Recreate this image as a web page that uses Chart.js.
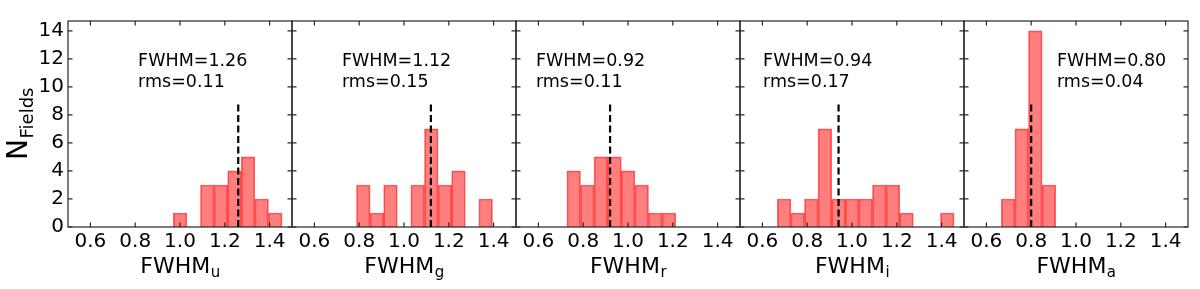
<!DOCTYPE html>
<html><head><meta charset="utf-8">
<script src="https://cdn.jsdelivr.net/npm/chart.js@4.4.1/dist/chart.umd.min.js"></script>
<style>
html,body{margin:0;padding:0;background:#fff;}
#wrap{position:relative;width:1200px;height:289px;overflow:hidden;background:#fff;}
.pan{position:absolute;top:0;height:289px;}
canvas{display:block;}
</style></head><body><div id="wrap"></div>
<script>
// ---------------- data ----------------
const binCenters = [0.6969,0.7576,0.8183,0.8790,0.9397,1.0004,1.0611,1.1218,1.1825,1.2432,1.3039,1.3646,1.4253];
const bandNames = ['u','g','r','i','a'];
const countsU = [0,0,0,0,0,1,0,3,3,4,5,2,1];
const countsG = [0,0,3,1,3,0,3,7,3,4,0,2,0];
const countsR = [0,4,3,5,5,4,3,1,1,0,0,0,0];
const countsI = [2,1,2,7,2,2,2,3,3,1,0,0,1];
const countsA = [2,7,14,3,0,0,0,0,0,0,0,0,0];
const fwhmValues = [1.26,1.12,0.92,0.94,0.80];
const fwhmLabels = ['1.26','1.12','0.92','0.94','0.80'];
const rmsLabels = ['0.11','0.15','0.11','0.17','0.04'];
const dashTop = 9;
const xTicks = [0.6,0.8,1.0,1.2,1.4];
const yTicks = [0,2,4,6,8,10,12,14];
const allCounts = [countsU,countsG,countsR,countsI,countsA];

// ---------------- layout ----------------
const annotX = [0.813,0.723,0.589,0.603,0.915];
const annotY1 = 11.5, annotY2 = 10.0;
const AREA_LEFT = 68, PANEL_W = 224, TOP = 21, XAX_H = 62, H = 289;
const FONT = "'DejaVu Sans', sans-serif";
const TL = 4.5;

const deco = {
  id: 'panelDeco',
  afterDatasetsDraw(chart, args, opts) {
    const ctx = chart.ctx, a = chart.chartArea;
    const xs = chart.scales.x, ys = chart.scales.y;
    ctx.save();
    ctx.strokeStyle = '#262626';
    ctx.lineWidth = 1.2;
    ctx.beginPath();
    xTicks.forEach(v => {
      const px = xs.getPixelForValue(v);
      ctx.moveTo(px, a.bottom); ctx.lineTo(px, a.bottom - TL);
      ctx.moveTo(px, a.top); ctx.lineTo(px, a.top + TL);
    });
    yTicks.forEach(v => {
      const py = ys.getPixelForValue(v);
      ctx.moveTo(a.left, py); ctx.lineTo(a.left + TL, py);
      ctx.moveTo(a.right, py); ctx.lineTo(a.right - TL, py);
    });
    ctx.stroke();
    ctx.strokeRect(a.left, a.top, a.right - a.left, a.bottom - a.top);
    ctx.restore();
  },
  afterDraw(chart, args, opts) {
    const k = opts.index;
    const ctx = chart.ctx, a = chart.chartArea;
    const xs = chart.scales.x, ys = chart.scales.y;
    ctx.save();
    ctx.fillStyle = '#000';
    ctx.textBaseline = 'alphabetic';
    ctx.textAlign = 'left';
    // annotation
    ctx.font = '17.5px ' + FONT;
    const ax = xs.getPixelForValue(annotX[k]);
    ctx.fillText('FWHM=' + fwhmLabels[k], ax, ys.getPixelForValue(annotY1));
    ctx.fillText('rms=' + rmsLabels[k], ax, ys.getPixelForValue(annotY2));
    // x title with subscript
    const cx = (a.left + a.right) / 2;
    ctx.font = '22px ' + FONT;
    const w1 = ctx.measureText('FWHM').width;
    ctx.font = '15px ' + FONT;
    const w2 = ctx.measureText(bandNames[k]).width;
    const sx = cx - (w1 + w2) / 2;
    ctx.font = '22px ' + FONT;
    ctx.fillText('FWHM', sx, 272.5);
    ctx.font = '15px ' + FONT;
    ctx.fillText(bandNames[k], sx + w1 + 0.5, 277);
    // y title (first panel)
    if (k === 0) {
      ctx.translate(27, (a.top + a.bottom) / 2);
      ctx.rotate(-Math.PI / 2);
      ctx.font = '28px ' + FONT;
      const n1 = ctx.measureText('N').width;
      ctx.font = '18px ' + FONT;
      const n2 = ctx.measureText('Fields').width;
      const st = -(n1 + n2) / 2;
      ctx.font = '28px ' + FONT;
      ctx.fillText('N', st, 0);
      ctx.font = '18px ' + FONT;
      ctx.fillText('Fields', st + n1 + 0.5, 5.6);
    }
    ctx.restore();
  }
};

const wrap = document.getElementById('wrap');
allCounts.forEach((counts, k) => {
  const padL = k === 0 ? 0 : 20, padR = 20;
  const left = k === 0 ? 0 : AREA_LEFT + PANEL_W * k - padL;
  const width = (k === 0 ? AREA_LEFT : padL) + PANEL_W + padR;
  const div = document.createElement('div');
  div.className = 'pan';
  div.style.left = left + 'px';
  div.style.width = width + 'px';
  const cv = document.createElement('canvas');
  cv.width = width; cv.height = H;
  cv.style.width = width + 'px'; cv.style.height = H + 'px';
  div.appendChild(cv); wrap.appendChild(div);
  const barData = [];
  binCenters.forEach((c, i) => { if (counts[i] > 0) barData.push({x: c, y: counts[i]}); });
  new Chart(cv, {
    data: {
      datasets: [
        {type: 'line', data: [{x: fwhmValues[k], y: 0}, {x: fwhmValues[k], y: dashTop}],
         borderColor: '#000', borderWidth: 2.2, borderDash: [7, 3.5], pointRadius: 0,
         fill: false, tension: 0, order: 0},
        {type: 'bar', data: barData, backgroundColor: 'rgba(255,0,0,0.5)',
         borderColor: 'rgba(255,0,0,0.6)', borderWidth: 1, borderSkipped: 'start',
         barPercentage: 1, categoryPercentage: 1, order: 1}
      ]
    },
    options: {
      responsive: false, animation: false, events: [],
      layout: {padding: {left: padL, right: padR, top: TOP, bottom: 0}},
      plugins: {legend: {display: false}, tooltip: {enabled: false}, panelDeco: {index: k}},
      scales: {
        x: {type: 'linear', min: 0.5, max: 1.5, offset: false,
            grid: {display: false, drawTicks: false}, border: {display: false},
            ticks: {font: {family: FONT, size: 20}, color: '#000', padding: 3, maxRotation: 0,
                    autoSkip: false, callback: v => v.toFixed(1)},
            afterBuildTicks: s => { s.ticks = xTicks.map(v => ({value: v})); },
            afterFit: s => { s.height = XAX_H; }},
        y: {type: 'linear', min: 0, max: 14.7, display: k === 0,
            grid: {display: false, drawTicks: false}, border: {display: false},
            ticks: {font: {family: FONT, size: 20}, color: '#000', padding: 4,
                    callback: v => String(v)},
            afterBuildTicks: s => { s.ticks = yTicks.map(v => ({value: v})); },
            afterFit: s => { s.width = (k === 0) ? AREA_LEFT : 0; }}
      }
    },
    plugins: [deco]
  });
});
</script></body></html>
